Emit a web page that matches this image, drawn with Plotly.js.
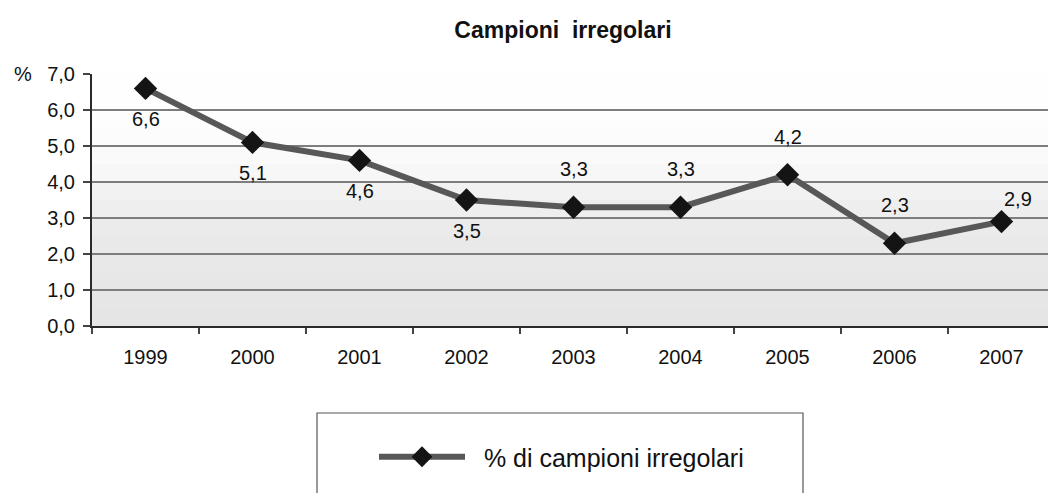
<!DOCTYPE html>
<html>
<head>
<meta charset="utf-8">
<script src="https://cdn.plot.ly/plotly-3.0.1.min.js"></script>
<style>html,body{margin:0;padding:0;background:#fff;}#chart{width:1048px;height:493px;}</style>
</head>
<body>
<div id="chart"></div>
<script>
// ---- data ----
var years = ['1999', '2000', '2001', '2002', '2003', '2004', '2005', '2006', '2007'];
var values = [6.6, 5.1, 4.6, 3.5, 3.3, 3.3, 4.2, 2.3, 2.9];
var labelPos = ['below', 'below', 'below', 'below', 'above', 'above', 'above', 'above', 'upright'];
var yTicks = [0, 1, 2, 3, 4, 5, 6, 7];
var seriesName = '% di campioni irregolari';
var chartTitle = 'Campioni  irregolari';

var FONT = 'Liberation Sans, Arial, sans-serif';

var trace = {
  x: years,
  y: values,
  type: 'scatter',
  mode: 'lines+markers',
  name: '\u00a0\u00a0' + seriesName,
  line: {color: '#585858', width: 6},
  marker: {symbol: 'diamond', size: 18, color: '#141414', line: {width: 0}},
  hoverinfo: 'x+y'
};

var annotations = values.map(function (v, i) {
  var p = labelPos[i];
  var a = {
    x: i, y: v, xref: 'x', yref: 'y',
    text: v.toFixed(1).replace('.', ','),
    showarrow: false,
    font: {family: FONT, size: 20, color: '#111'},
    xanchor: 'center', yanchor: 'middle'
  };
  if (p === 'below') { a.yshift = -31; }
  else if (p === 'above') { a.yshift = 38; }
  else { a.yshift = 23; a.xshift = 16; }
  return a;
});
annotations.push({
  x: -0.072, xref: 'paper', y: 7, yref: 'y', text: '%', showarrow: false,
  font: {family: FONT, size: 20, color: '#111'}, xanchor: 'center', yanchor: 'middle'
});

// plot background bands (light gray lower, whiter top)
var shapes = [];
var bandColors = ['#e5e5e5', '#e6e6e6', '#e7e7e7', '#e8e8e8', '#e9e9e9', '#ebebeb', '#eeeeee', '#f2f2f2',
                  '#f7f7f7', '#fafafa', '#fcfcfc', '#fdfdfd', '#fefefe', '#fefefe'];
for (var b = 0; b < bandColors.length; b++) {
  shapes.push({type: 'rect', xref: 'paper', yref: 'y', x0: 0, x1: 1, y0: b * 0.5, y1: b * 0.5 + 0.5,
    fillcolor: bandColors[b], line: {width: 0}, layer: 'below'});
}
// legend box
shapes.push({type: 'rect', xref: 'paper', yref: 'paper',
  x0: (317 - 92) / 956, x1: (803 - 92) / 956, y0: (326 - 500) / 252, y1: (326 - 413) / 252,
  line: {color: '#555', width: 1.2}, fillcolor: 'rgba(0,0,0,0)'});

var layout = {
  width: 1048, height: 493,
  margin: {l: 92, r: 0, t: 74, b: 167},
  paper_bgcolor: '#ffffff',
  plot_bgcolor: 'rgba(0,0,0,0)',
  font: {family: FONT, color: '#111'},
  title: {
    text: '<b>' + chartTitle + '</b>',
    font: {family: FONT, size: 23, color: '#111'},
    x: (563 - 92) / 956, xref: 'paper', xanchor: 'center',
    y: 1 - 30 / 493, yref: 'container', yanchor: 'middle'
  },
  xaxis: {
    type: 'category',
    categoryorder: 'array', categoryarray: years,
    range: [-0.5, -0.5 + 956 / 107],
    tickson: 'boundaries',
    ticks: 'outside', ticklen: 6, tickwidth: 1.2, tickcolor: '#444',
    showline: true, linecolor: '#2a2a2a', linewidth: 2,
    showgrid: false, zeroline: false,
    tickfont: {family: FONT, size: 20, color: '#111'},
    ticklabelstandoff: 12,
    fixedrange: true
  },
  yaxis: {
    range: [0, 7],
    tickvals: yTicks,
    ticktext: yTicks.map(function (t) { return t.toFixed(1).replace('.', ','); }),
    ticks: 'outside', ticklen: 7, tickwidth: 1.2, tickcolor: '#444',
    showline: true, linecolor: '#2a2a2a', linewidth: 2,
    showgrid: true, gridcolor: '#7d7d7d', gridwidth: 1.3,
    zeroline: false,
    tickfont: {family: FONT, size: 20, color: '#111'},
    ticklabelstandoff: 4,
    fixedrange: true
  },
  showlegend: true,
  legend: {
    x: (374 - 92) / 956, xanchor: 'left',
    y: (326 - 457) / 252, yanchor: 'middle',
    bgcolor: 'rgba(0,0,0,0)', borderwidth: 0,
    font: {family: FONT, size: 25, color: '#111'},
    itemwidth: 86
  },
  shapes: shapes,
  annotations: annotations
};

Plotly.newPlot('chart', [trace], layout, {displayModeBar: false, staticPlot: true});
</script>
</body>
</html>
